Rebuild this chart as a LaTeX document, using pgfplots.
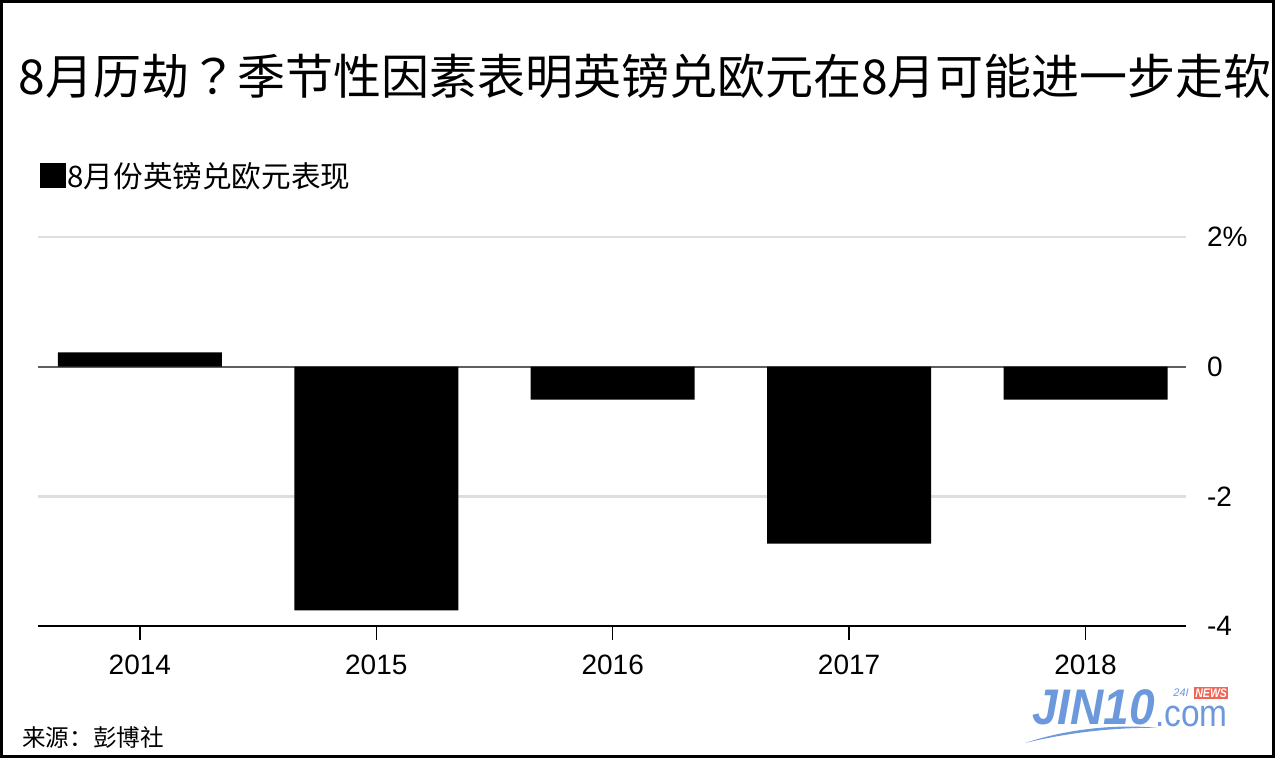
\documentclass[border=0pt]{standalone}
\usepackage{pgfplots}
\pgfplotsset{compat=1.18}
\usepackage{fontspec}
\setmainfont{Liberation Sans}
\newfontfamily\cjk{Noto Sans CJK SC}
\newfontfamily\cjktc{Noto Sans CJK TC}
\definecolor{gridgray}{RGB}{222,222,222}
\definecolor{zerogray}{RGB}{95,95,95}
\definecolor{logoblue}{RGB}{108,152,220}
\definecolor{newsred}{RGB}{242,100,85}
\begin{document}
\begin{tikzpicture}
\begin{scope}[x=0.5pt,y=-0.5pt]
\useasboundingbox (0,0) rectangle (1275,758);
\end{scope}
\begin{axis}[
 scale only axis, width=574pt, height=194.5pt,
 at={(19pt,-313pt)}, anchor=south west,
 ymin=-4, ymax=2, xmin=-0.431, xmax=4.425,
 ybar, bar width=82pt, bar shift=0pt,
 axis x line*=bottom, axis y line*=right,
 y axis line style={draw=none},
 x axis line style={black, line width=1pt, -},
 xtick={0,1,2,3,4}, xticklabels={2014,2015,2016,2017,2018},
 ytick={-4,-2,2}, yticklabels={-4,-2,2\%},
 extra y ticks={0}, extra y tick labels={0},
 extra y tick style={major grid style={zerogray, line width=1pt}, ytick style={draw=none}},
 ymajorgrids, major grid style={gridgray, line width=1.2pt},
 tick align=outside, major tick length=7pt,
 xtick style={black, line width=0.7pt},
 ytick style={draw=none},
 tick label style={font=\fontsize{14pt}{16pt}\selectfont},
 xticklabel style={yshift=-4pt},
 yticklabel style={anchor=west},
 clip=false,
]
\addplot[fill=black, draw=none] coordinates {(0,0.22) (1,-3.76) (2,-0.51) (3,-2.73) (4,-0.51)};
\end{axis}
\begin{scope}[x=0.5pt,y=-0.5pt]
\node[anchor=west, inner sep=0] at (18,76) {\cjk\fontsize{24pt}{28pt}\selectfont 8月历劫{\cjktc ？}季节性因素表明英镑兑欧元在8月可能进一步走软};
\fill (40,163) rectangle (66,188);
\node[anchor=west, inner sep=0] at (67,176) {\cjk\fontsize{14.8pt}{18pt}\selectfont 8月份英镑兑欧元表现};
\node[anchor=west, inner sep=0] at (22,737) {\cjk\fontsize{11.8pt}{14pt}\selectfont 来源：彭博社};
\node[anchor=base west, inner sep=0, text=logoblue, xscale=0.92, font=\fontsize{25pt}{28pt}\selectfont\bfseries\itshape] at (1032,725) {JIN10};
\node[anchor=base west, inner sep=0, text=logoblue, xscale=0.88, font=\fontsize{19pt}{22pt}\selectfont] at (1155,726) {.com};
\node[anchor=base west, inner sep=0, text=logoblue, font=\fontsize{5.5pt}{6pt}\selectfont\itshape] at (1173,697) {24I};
\node[anchor=north west, fill=newsred, text=white, inner sep=0.6pt, xscale=0.85, font=\fontsize{6.2pt}{7pt}\selectfont\bfseries\itshape] at (1194,687) {NEWS};
\fill[logoblue] (1025,743) .. controls (1070,728) and (1120,724) .. (1158,728) .. controls (1120,727) and (1070,732) .. (1025,743);
\draw[line width=1.5pt] (1.5,1.5) rectangle (1273.5,756.5);
\end{scope}
\end{tikzpicture}
\end{document}
